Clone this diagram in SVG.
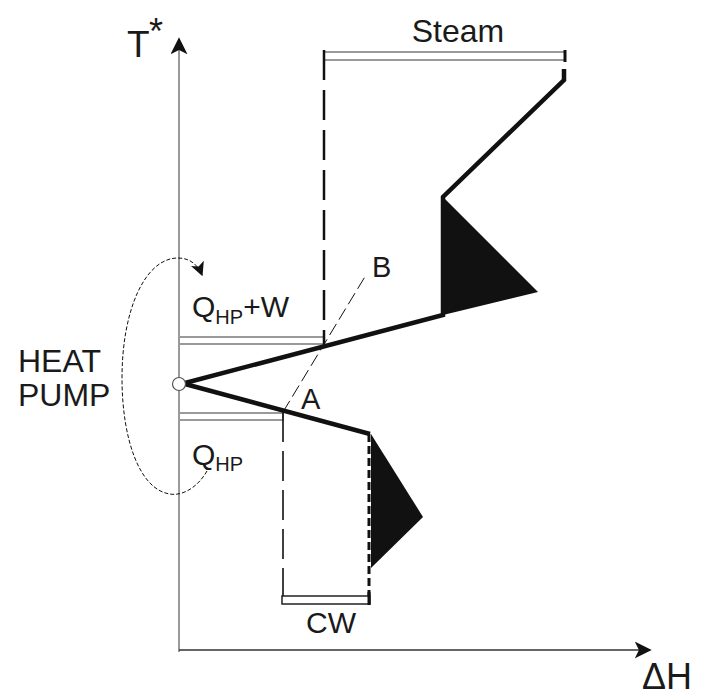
<svg xmlns="http://www.w3.org/2000/svg" width="705" height="700" viewBox="0 0 705 700">
<defs>
<style>
.txt{font-family:"Liberation Sans",Arial,sans-serif;fill:#1a1a1a}
.bar{fill:#fff;stroke:#9a9a9a;stroke-width:2}
.thick{fill:none;stroke:#111;stroke-width:4.5;stroke-linejoin:miter}
.dash{fill:none;stroke:#111;stroke-width:2.5;stroke-dasharray:30 10}
</style>
<marker id="axarrow" viewBox="0 0 10 10" refX="9" refY="5" markerWidth="17" markerHeight="17" markerUnits="userSpaceOnUse" orient="auto">
<path d="M0,0 L10,5 L0,10 L2.5,5 z" fill="#111"/>
</marker>
<marker id="loop" viewBox="0 0 10 10" refX="9" refY="5" markerWidth="14" markerHeight="14" markerUnits="userSpaceOnUse" orient="auto">
<path d="M0,0 L10,5 L0,10 L2.5,5 z" fill="#111"/>
</marker>
</defs>
<rect width="705" height="700" fill="#fff"/>

<g id="axes">
<line x1="179" y1="652" x2="179" y2="39" stroke="#9a9a9a" stroke-width="2" marker-end="url(#axarrow)"/>
<line x1="179" y1="650" x2="650" y2="650" stroke="#333" stroke-width="1.5" marker-end="url(#axarrow)"/>
<text class="txt" x="127" y="57" font-size="37">T</text>
<text class="txt" x="149" y="44" font-size="36">*</text>
<text class="txt" x="642" y="689" font-size="36" textLength="50" lengthAdjust="spacingAndGlyphs">ΔH</text>
</g>

<g id="steam">
<rect class="bar" x="324" y="52" width="241" height="8"/>
<line x1="565" y1="50" x2="565" y2="62" stroke="#111" stroke-width="3"/>
<text class="txt" x="458" y="42" font-size="32" text-anchor="middle">Steam</text>
</g>

<g id="qhpw">
<rect class="bar" x="179" y="337" width="145" height="7"/>
<text class="txt" x="192" y="317" font-size="30">Q<tspan font-size="20" dy="7">HP</tspan><tspan dy="-7">+W</tspan></text>
</g>

<g id="qhp">
<rect class="bar" x="179" y="413" width="104" height="7"/>
<text class="txt" x="192" y="465" font-size="30">Q<tspan font-size="20" dy="6">HP</tspan></text>
</g>

<g id="cw">
<rect x="282" y="596" width="88" height="8" fill="#fff" stroke="#222" stroke-width="1.5"/>
<line x1="369" y1="592" x2="369" y2="605" stroke="#111" stroke-width="3"/>
<text class="txt" x="331" y="633" font-size="30" text-anchor="middle">CW</text>
</g>

<g id="hot-curve">
<polygon points="443,197 538,292 443,315" fill="#111"/>
<polyline class="thick" points="564,69 564,80 443,197 443,315 185,383"/>
</g>

<g id="cold-curve">
<polygon points="371,434 423,517 371,568" fill="#111"/>
<polyline class="thick" points="185,384 370,434"/>
<line x1="369" y1="434" x2="369" y2="596" stroke="#111" stroke-width="3" stroke-dasharray="8 4"/>
</g>

<g id="connectors">
<line class="dash" x1="324" y1="50" x2="324" y2="346"/>
<line x1="283" y1="412" x2="283" y2="596" stroke="#111" stroke-width="1.6" stroke-dasharray="30 9"/>
<line x1="283" y1="412" x2="366" y2="275" stroke="#111" stroke-width="1" stroke-dasharray="13 5"/>
<path d="M207,471 C196,490 180,496 170,494 C140,490 122,440 122,378 C122,310 145,258 178,258 C190,258 198,265 202,275" fill="none" stroke="#111" stroke-width="1" stroke-dasharray="4 2" marker-end="url(#loop)"/>
</g>

<g id="pivot">
<circle cx="179" cy="384" r="6.5" fill="#fff" stroke="#555" stroke-width="1.2"/>
</g>

<g id="labels">
<text class="txt" x="372" y="277" font-size="29">B</text>
<text class="txt" x="301" y="409" font-size="29">A</text>
<text class="txt" x="18" y="372" font-size="32">HEAT</text>
<text class="txt" x="18" y="406" font-size="32">PUMP</text>
</g>
</svg>
